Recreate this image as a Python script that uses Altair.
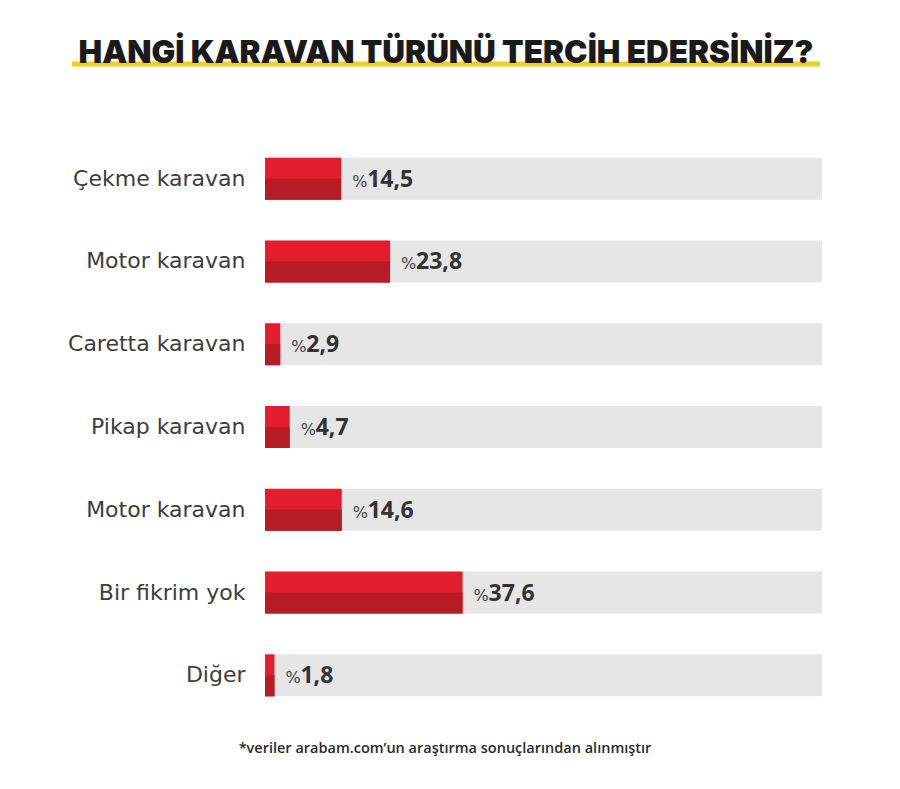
import altair as alt
import pandas as pd

categories = ["Çekme karavan", "Motor karavan", "Caretta karavan", "Pikap karavan",
              "Motor karavan", "Bir fikrim yok", "Diğer"]
values = [14.5, 23.8, 2.9, 4.7, 14.6, 37.6, 1.8]
value_labels = ["14,5", "23,8", "2,9", "4,7", "14,6", "37,6", "1,8"]
title_text = "HANGİ KARAVAN TÜRÜNÜ TERCİH EDERSİNİZ?"
footnote_text = "*veriler arabam.com’un araştırma sonuçlarından alınmıştır"
XMAX = 106

df = pd.DataFrame({
    "idx": list(range(len(categories))),
    "cat": categories,
    "val": values,
    "lab": value_labels,
    "bg": [XMAX] * len(categories),
})

W, H = 557, 580
label_array = "[" + ",".join("'" + c + "'" for c in categories) + "]"

x_scale = alt.Scale(domain=[0, XMAX], nice=False, zero=True)
y_enc = alt.Y("idx:O",
              scale=alt.Scale(paddingInner=0.493, paddingOuter=0.25),
              axis=alt.Axis(title=None, domain=False, ticks=False, grid=False,
                            labelExpr=label_array + "[datum.value]",
                            labelFont="DejaVu Sans", labelFontSize=22,
                            labelLimit=400,
                            labelColor="#3d3d3d", labelPadding=20))

base = alt.Chart(df)

bg = base.mark_bar(color="#e6e6e6").encode(
    x=alt.X("bg:Q", scale=x_scale, axis=None), y=y_enc)
bar_top = base.mark_bar(color="#e31d2d").encode(
    x=alt.X("val:Q", scale=x_scale, axis=None), y=y_enc)
bar_bot = base.mark_bar(color="#b71b25", height=21, yOffset=10.5).encode(
    x=alt.X("val:Q", scale=x_scale, axis=None), y=y_enc)
pct = base.mark_text(align="left", baseline="middle", dx=11, dy=3,
                     font="DejaVu Sans", fontSize=16, color="#444444").encode(
    x=alt.X("val:Q", scale=x_scale, axis=None), y=y_enc, text=alt.value("%"))
num = base.mark_text(align="left", baseline="middle", dx=26, dy=1,
                     font="Open Sans", fontSize=23, fontWeight="bold", color="#333333").encode(
    x=alt.X("val:Q", scale=x_scale, axis=None), y=y_enc, text="lab:N")

deco = pd.DataFrame({"t": [title_text], "f": [footnote_text]})
underline = alt.Chart(deco).mark_rule(color="#f5cd1e", strokeWidth=5).encode(
    x=alt.value(-193), x2=alt.value(555), y=alt.value(-73))
title = alt.Chart(deco).mark_text(align="center", baseline="alphabetic",
                                  font="Inter", fontSize=31.5, fontWeight=900,
                                  color="#1a1a1a").encode(
    x=alt.value(181), y=alt.value(-74), text="t:N")
foot = alt.Chart(deco).mark_text(align="center", baseline="middle",
                                 font="Open Sans", fontSize=14.5, fontWeight=600,
                                 color="#2a2a2a").encode(
    x=alt.value(180), y=alt.value(612), text="f:N")

chart = alt.layer(bg, bar_top, bar_bot, pct, num, underline, title, foot).properties(
    width=W, height=H,
    background="white",
    autosize=alt.AutoSizeParams(type="none"),
    padding={"left": 257, "top": 129, "right": 70, "bottom": 64},
).configure_view(stroke=None, strokeWidth=0)

chart.save("out.html", embed_options={"renderer": "svg", "actions": False})
